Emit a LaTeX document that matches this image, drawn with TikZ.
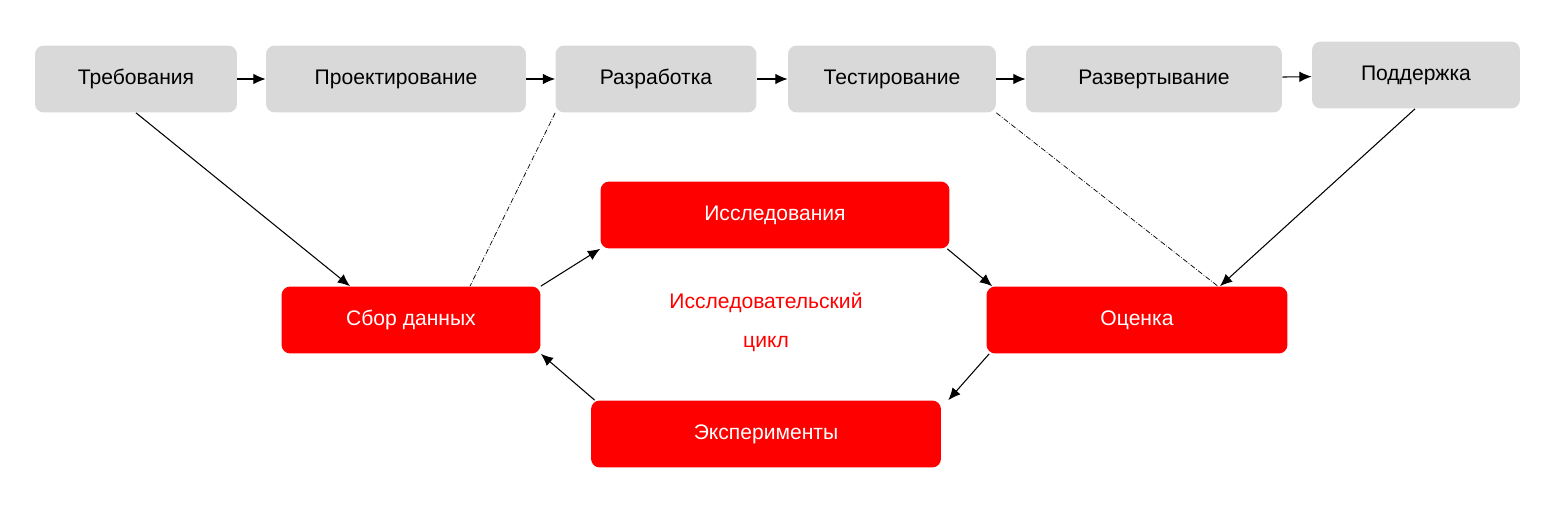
\documentclass[tikz,border=0pt]{standalone}
\usepackage{fontspec}
\setmainfont{Liberation Sans}
\usetikzlibrary{arrows.meta}
\begin{document}
\begin{tikzpicture}[x=0.02cm,y=-0.02cm,>={Latex[length=7pt,width=6pt]},
		font=\fontsize{12}{15}\selectfont,
		stage/.style = {rounded corners=5pt, fill=gray!30, inner sep=0pt, minimum height=1.34cm},
		phase/.style = {rounded corners=5pt, fill=red, text=white, inner sep=0pt, minimum height=1.34cm},
		link/.style = {->, semithick},
		hint/.style = {densely dash dot, thin}]
		\useasboundingbox (0,0) rectangle (1560,514);
		
		\node[stage,minimum width=4.04cm] at (136,79) (req) {Требования};
		\node[stage,minimum width=5.2cm] at (396,79) (des) {Проектирование};
		\node[stage,minimum width=4.02cm] at (656,79) (dev) {Разработка};
		\node[stage,minimum width=4.16cm] at (892,79) (tst) {Тестирование};
		\node[stage,minimum width=5.12cm] at (1154,79) (dep) {Развертывание};
		\node[stage,minimum width=4.16cm] at (1416,75) (sup) {Поддержка};
		
		\node[phase,minimum width=6.98cm] at (775,215) (res) {Исследования};
		\node[phase,minimum width=5.18cm] at (411,320) (col) {Сбор данных};
		\node[phase,minimum width=6.02cm] at (1137,320) (eva) {Оценка};
		\node[phase,minimum width=7.0cm] at (766,434) (exp) {Эксперименты};
		\node[text=red,align=center,font=\fontsize{12}{22}\selectfont] at (766,322) (cyc) {Исследовательский\\цикл};
		
		\draw[link] (req) -- (des);
		\draw[link] (des) -- (dev);
		\draw[link] (dev) -- (tst);
		\draw[link] (tst) -- (dep);
		\draw[link] (dep) -- (sup);
		\draw[link] (req.south) -- ([xshift=-1.22cm]col.north);
		\draw[link] ([xshift=-0.02cm]sup.south) -- ([xshift=1.66cm]eva.north);
		\draw[link] (col.north east) -- (res.south west);
		\draw[link] ([xshift=-0.05cm]res.south east) -- ([xshift=0.12cm]eva.north west);
		\draw[link] ([xshift=0.06cm]eva.south west) -- ([xshift=0.14cm]exp.north east);
		\draw[link] ([xshift=0.08cm]exp.north west) -- (col.south east);
		\draw[hint] (dev.south west) -- ([xshift=1.18cm]col.north);
		\draw[hint] (tst.south east) -- ([xshift=-1.4cm]eva.north east);
\end{tikzpicture}
\end{document}
